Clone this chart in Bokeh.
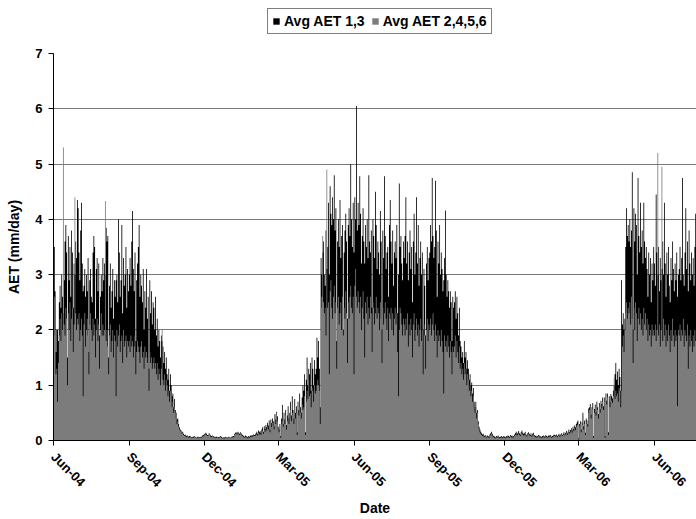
import pandas as pd
from bokeh.plotting import figure
from bokeh.layouts import column
from bokeh.models import (Range1d, FixedTicker, DatetimeTickFormatter, Legend,
                          LegendItem, ColumnDataSource)
from bokeh.embed import file_html
from bokeh.resources import INLINE

start_date = "2004-06-01"
series_names = ["Avg AET 1,3", "Avg AET 2,4,5,6"]

# Avg AET 1,3 (mm/day), one row per month
aet13_2004 = [
    4.2,3.5,2.7,1.6,2.0,2.0,1.8,2.5,2.8,2.4,3.0,2.6,2.3,2.9,3.6,3.9,3.4,1.5,3.7,2.9,3.5,2.6,3.8,3.4,2.4,3.2,3.0,3.6,3.3,4.35,
    4.2,3.4,2.9,3.8,4.3,3.2,2.7,2.8,3.1,2.6,3.0,2.7,3.3,1.6,2.9,3.1,2.6,2.5,3.4,3.7,3.5,2.2,3.1,3.3,2.7,3.2,1.9,2.6,3.0,2.7,3.3,
    2.9,3.2,3.0,3.85,3.6,3.7,1.5,2.8,3.2,2.4,2.7,3.1,2.2,2.9,2.6,2.9,3.0,2.5,4.0,3.4,2.6,2.9,3.9,2.3,3.3,2.8,3.0,3.5,2.4,3.1,2.7,
    3.0,3.3,2.8,3.6,4.15,3.1,2.7,3.4,1.8,2.9,3.2,3.5,3.9,2.6,3.0,2.8,2.5,3.1,2.0,2.7,2.4,3.1,2.2,2.6,1.3,2.9,2.3,2.7,2.1,2.5,
    2.4,2.0,2.6,1.9,2.2,1.7,2.0,1.8,1.5,1.9,1.8,1.7,1.4,1.6,1.3,1.5,1.2,1.1,1.3,0.9,1.2,1.0,0.8,0.85,0.6,0.75,0.55,0.5,0.38,0.4,0.3,
    0.24,0.2,0.18,0.14,0.16,0.12,0.1,0.11,0.09,0.08,0.09,0.07,0.08,0.08,0.06,0.06,0.07,0.07,0.08,0.07,0.06,0.05,0.07,0.07,0.06,0.06,0.07,0.07,0.09,0.1,
    0.11,0.12,0.14,0.12,0.1,0.1,0.13,0.11,0.09,0.08,0.09,0.08,0.07,0.07,0.06,0.07,0.07,0.06,0.06,0.07,0.08,0.07,0.05,0.06,0.05,0.06,0.07,0.06,0.05,0.06,0.07,
]
aet13_2005 = [
    0.06,0.05,0.07,0.07,0.08,0.08,0.12,0.14,0.15,0.13,0.16,0.14,0.12,0.15,0.13,0.11,0.1,0.08,0.07,0.09,0.08,0.07,0.06,0.08,0.07,0.09,0.08,0.1,0.09,0.11,0.1,
    0.11,0.13,0.16,0.12,0.18,0.15,0.17,0.14,0.2,0.24,0.16,0.26,0.21,0.28,0.24,0.32,0.27,0.36,0.2,0.38,0.31,0.4,0.35,0.26,0.48,0.38,0.52,0.44,
    0.25,0.2,0.3,0.08,0.4,0.64,0.3,0.5,0.38,0.55,0.28,0.45,0.62,0.4,0.5,0.7,0.45,0.8,0.55,0.4,0.75,0.5,0.62,0.15,0.7,0.55,0.85,0.6,0.5,0.78,1.0,
    0.9,1.2,0.15,1.1,1.5,1.0,1.3,1.2,1.4,0.9,1.5,1.3,1.0,1.45,1.2,1.3,1.86,1.5,1.8,1.3,0.6,3.3,3.0,3.4,3.6,3.0,2.8,3.8,3.1,3.5,
    4.3,3.0,4.6,4.1,3.9,4.4,4.0,4.8,3.8,4.2,1.8,3.6,4.0,3.5,4.35,3.3,3.7,3.9,2.0,3.4,3.8,4.1,3.6,2.2,3.9,4.2,3.7,5.0,4.0,3.5,4.3,
    3.4,4.4,4.0,6.05,3.8,4.3,3.9,4.78,4.1,3.2,3.7,4.2,3.6,3.2,3.9,3.5,4.0,3.3,4.8,3.6,3.4,3.8,2.4,4.0,3.7,3.3,4.5,3.9,3.1,3.6,
    3.4,3.0,4.15,3.6,2.0,3.8,3.3,4.78,3.7,3.1,3.4,3.5,2.6,3.9,4.35,3.6,3.2,3.8,2.8,3.4,3.6,3.3,3.9,2.3,3.0,4.65,3.5,3.7,3.2,2.9,3.6,
    3.3,3.7,4.4,3.2,3.6,2.9,3.4,3.8,3.1,3.5,2.5,3.6,4.1,3.0,3.4,4.4,3.2,3.9,2.8,3.3,3.6,3.0,3.4,2.0,3.1,2.8,1.9,3.2,3.5,2.9,3.3,
    3.4,3.9,3.6,4.75,3.7,3.3,3.5,4.7,3.8,2.6,3.6,3.2,3.9,3.0,3.4,3.1,2.7,2.9,3.3,4.16,3.0,2.6,2.9,2.7,2.4,2.7,2.5,1.8,2.6,2.4,
    2.5,2.7,2.2,2.6,2.3,1.9,2.4,1.8,1.7,1.5,1.6,1.4,1.8,1.5,1.6,1.3,1.45,1.3,1.1,1.2,1.0,1.05,0.85,0.95,0.7,0.6,0.7,0.5,0.55,0.35,0.25,
    0.2,0.16,0.13,0.11,0.12,0.09,0.08,0.1,0.07,0.09,0.08,0.07,0.11,0.13,0.16,0.12,0.09,0.08,0.07,0.06,0.08,0.07,0.09,0.07,0.06,0.07,0.08,0.06,0.07,0.08,
    0.07,0.06,0.08,0.07,0.09,0.08,0.07,0.1,0.08,0.09,0.07,0.08,0.11,0.13,0.16,0.12,0.14,0.17,0.13,0.11,0.15,0.18,0.14,0.12,0.13,0.16,0.11,0.09,0.13,0.15,0.12,
]
aet13_2006 = [
    0.1,0.13,0.09,0.12,0.14,0.1,0.08,0.09,0.07,0.08,0.1,0.09,0.07,0.08,0.06,0.08,0.09,0.07,0.08,0.1,0.08,0.07,0.09,0.08,0.1,0.09,0.07,0.08,0.09,0.11,0.1,
    0.09,0.11,0.08,0.1,0.12,0.09,0.11,0.13,0.1,0.12,0.15,0.11,0.14,0.17,0.13,0.16,0.2,0.15,0.19,0.22,0.18,0.25,0.21,0.27,0.24,0.3,0.33,0.36,
    0.04,0.3,0.35,0.2,0.33,0.5,0.26,0.36,0.14,0.4,0.36,0.3,0.58,0.6,0.66,0.47,0.6,0.68,0.08,0.57,0.65,0.52,0.7,0.6,0.48,0.68,0.57,0.72,0.66,0.78,0.62,
    0.78,0.08,0.85,0.72,0.85,0.15,0.8,0.7,0.84,0.8,0.76,0.9,1.0,1.2,1.4,1.1,1.25,1.0,1.3,1.15,0.9,2.9,2.1,2.3,2.0,2.2,3.5,4.2,3.7,3.9,
    3.6,4.0,3.5,3.8,4.85,2.0,4.2,3.6,4.1,3.9,3.0,4.75,3.7,3.4,4.3,3.5,3.8,3.2,4.3,3.6,3.3,3.5,3.1,2.6,3.4,3.0,3.3,2.5,3.2,2.9,3.5,
    3.2,2.8,4.45,3.4,3.0,3.5,2.7,3.3,2.9,3.1,3.6,3.0,4.3,3.2,2.6,3.4,3.0,3.5,2.8,2.5,3.3,2.9,3.6,3.1,2.7,3.2,2.9,3.4,2.6,3.0,
    3.1,3.5,2.9,3.3,4.75,3.0,2.8,3.4,4.2,3.1,3.6,2.7,3.8,3.2,2.9,3.4,3.0,3.3,2.8,3.5,4.1,3.2,
]

# Avg AET 2,4,5,6 (mm/day), one row per month
aet2456_2004 = [
    3.4,2.6,1.9,1.2,1.3,0.7,1.4,1.9,2.2,1.8,2.3,2.0,5.3,2.1,1.9,2.4,2.2,1.0,2.3,2.0,2.5,1.8,2.2,2.4,1.6,2.1,4.4,2.3,2.0,2.2,
    2.1,2.3,1.8,2.0,2.2,1.9,0.8,2.1,2.3,1.7,2.0,2.2,1.9,1.2,2.1,2.3,2.0,1.8,2.2,1.9,2.1,1.5,2.0,2.2,1.8,2.1,1.3,2.0,2.3,1.9,2.1,
    1.9,2.0,4.33,1.8,2.0,1.7,1.2,1.9,2.1,1.6,1.8,2.0,1.5,1.9,1.8,0.8,2.0,1.7,1.9,2.1,1.6,1.8,1.9,1.4,2.0,1.7,1.8,1.9,1.5,1.8,1.7,
    1.8,1.6,1.9,1.7,1.8,1.5,1.7,1.9,1.2,1.6,1.8,1.7,1.6,1.4,1.7,1.8,1.5,1.6,1.3,1.7,1.5,1.6,1.4,1.5,0.9,1.6,1.4,1.5,1.3,1.4,
    1.5,1.3,1.4,1.2,1.4,1.1,1.3,1.2,1.0,1.3,2.0,1.1,1.0,1.2,0.9,1.1,1.0,0.8,0.9,0.7,0.9,0.8,0.6,0.7,0.5,0.6,0.5,0.4,0.3,0.35,0.25,
    0.2,0.18,0.15,0.12,0.14,0.1,0.08,0.1,0.07,0.06,0.08,0.05,0.06,0.07,0.05,0.04,0.06,0.05,0.07,0.06,0.05,0.04,0.05,0.06,0.04,0.05,0.06,0.05,0.07,0.08,
    0.09,0.1,0.12,0.1,0.08,0.09,0.11,0.1,0.07,0.06,0.08,0.07,0.05,0.06,0.04,0.05,0.06,0.05,0.04,0.06,0.07,0.05,0.04,0.05,0.03,0.04,0.06,0.05,0.04,0.05,0.06,
]
aet2456_2005 = [
    0.05,0.04,0.06,0.05,0.07,0.06,0.1,0.12,0.13,0.11,0.14,0.12,0.1,0.13,0.11,0.09,0.08,0.06,0.05,0.07,0.06,0.05,0.04,0.06,0.05,0.07,0.06,0.08,0.07,0.09,0.08,
    0.08,0.1,0.12,0.09,0.14,0.11,0.13,0.1,0.15,0.18,0.12,0.2,0.16,0.22,0.18,0.25,0.2,0.28,0.15,0.3,0.24,0.32,0.27,0.2,0.45,0.3,0.5,0.35,
    0.2,0.15,0.25,0.05,0.3,0.35,0.25,0.4,0.3,0.45,0.2,0.35,0.5,0.3,0.4,0.55,0.35,0.5,0.45,0.3,0.6,0.4,0.5,0.1,0.55,0.45,0.6,0.5,0.4,0.65,0.55,
    0.6,0.8,0.1,0.7,0.9,0.75,1.1,0.8,0.85,0.6,0.95,0.9,0.7,1.0,0.85,0.9,1.0,1.1,1.0,0.9,0.3,2.4,2.6,3.7,2.5,2.3,2.4,1.9,4.9,2.4,
    2.5,1.2,2.7,2.9,2.4,2.2,2.6,2.8,2.3,2.5,1.3,2.4,2.6,2.1,2.3,2.5,2.0,2.6,1.9,2.4,2.2,2.7,2.3,1.4,2.5,2.2,2.6,2.8,2.4,2.3,2.6,
    1.2,2.8,3.1,2.6,2.4,2.7,2.5,2.3,2.6,2.0,2.4,2.7,2.2,1.5,2.5,2.3,2.6,2.1,2.4,2.2,2.6,2.3,1.6,2.5,2.4,2.1,2.3,2.6,2.2,2.4,
    2.3,2.0,2.5,2.2,1.4,2.4,2.1,2.3,2.5,2.2,2.0,2.4,1.8,2.3,2.2,2.4,2.0,2.3,1.9,2.2,2.4,2.1,2.3,1.6,0.8,2.0,2.4,2.3,2.1,1.9,2.2,
    2.1,1.9,2.2,2.0,2.3,1.7,2.1,1.9,2.2,2.0,1.5,2.1,2.3,1.8,2.0,2.2,1.9,2.1,1.7,2.0,2.2,1.8,2.0,1.2,2.1,1.9,1.3,2.0,2.2,1.8,2.1,
    2.0,2.2,1.9,2.1,2.3,2.0,1.8,2.1,1.9,1.5,2.0,1.8,1.9,1.7,2.0,1.8,1.6,0.85,1.9,1.7,1.8,1.6,1.9,1.7,1.5,1.8,1.6,1.2,1.7,1.6,
    1.7,1.9,1.5,1.8,1.6,1.4,1.7,1.3,1.4,1.2,1.3,1.1,1.4,1.2,1.3,1.0,1.2,1.1,0.9,1.0,0.8,0.9,0.7,0.8,0.6,0.5,0.6,0.4,0.5,0.3,0.2,
    0.15,0.12,0.1,0.08,0.09,0.07,0.06,0.08,0.05,0.07,0.06,0.05,0.08,0.1,0.12,0.09,0.07,0.06,0.05,0.04,0.06,0.05,0.07,0.05,0.04,0.05,0.06,0.04,0.05,0.06,
    0.05,0.04,0.06,0.05,0.07,0.06,0.05,0.08,0.06,0.07,0.05,0.06,0.08,0.1,0.12,0.09,0.11,0.13,0.1,0.08,0.12,0.14,0.11,0.09,0.1,0.13,0.08,0.07,0.1,0.12,0.09,
]
aet2456_2006 = [
    0.08,0.1,0.07,0.09,0.11,0.08,0.06,0.07,0.05,0.06,0.08,0.07,0.05,0.06,0.04,0.06,0.07,0.05,0.06,0.08,0.06,0.05,0.07,0.06,0.08,0.07,0.05,0.06,0.07,0.09,0.08,
    0.07,0.09,0.06,0.08,0.1,0.07,0.09,0.11,0.08,0.1,0.12,0.09,0.11,0.14,0.1,0.13,0.16,0.12,0.15,0.18,0.14,0.2,0.17,0.22,0.19,0.25,0.28,0.3,
    0.02,0.25,0.3,0.15,0.28,0.45,0.2,0.3,0.1,0.35,0.3,0.25,0.5,0.55,0.6,0.4,0.55,0.6,0.05,0.5,0.58,0.45,0.62,0.55,0.4,0.6,0.5,0.65,0.58,0.7,0.55,
    0.7,0.05,0.75,0.65,0.78,0.1,0.7,0.6,0.75,0.72,0.68,0.8,1.14,0.75,0.9,0.8,0.85,0.7,0.95,0.9,0.6,0.9,1.7,1.9,1.6,2.0,2.3,2.5,2.2,2.4,
    2.3,2.5,2.1,2.6,2.2,1.4,2.4,2.0,2.5,2.3,1.8,2.2,2.4,2.1,2.3,2.0,2.2,1.9,2.4,2.1,2.3,2.0,2.2,1.8,2.1,1.9,2.0,1.7,2.1,1.9,2.0,
    1.9,2.1,1.8,2.0,5.2,1.9,2.1,1.7,2.0,4.95,1.8,2.2,1.9,2.1,1.7,2.0,1.8,2.1,1.9,1.6,2.0,1.8,2.2,1.9,1.7,2.0,1.8,1.9,0.62,2.0,
    1.9,2.1,1.8,2.0,1.9,2.2,1.7,2.0,1.9,1.8,2.1,1.3,1.9,1.7,2.0,1.8,1.6,1.9,1.7,2.0,1.8,1.9,
]

tick_dates = ["2004-06-01", "2004-09-01", "2004-12-01", "2005-03-01", "2005-06-01",
              "2005-09-01", "2005-12-01", "2006-03-01", "2006-06-01"]
y_ticks = [0, 1, 2, 3, 4, 5, 6, 7]

aet13 = aet13_2004 + aet13_2005 + aet13_2006
aet2456 = aet2456_2004 + aet2456_2005 + aet2456_2006
assert len(aet13) == len(aet2456), (len(aet13), len(aet2456))
dates = pd.date_range(start_date, periods=len(aet13), freq="D")
src = ColumnDataSource(dict(date=dates, a13=aet13, a2456=aet2456))

FONT = "Liberation Sans"
BLACK = "#000000"
GRAY = "#7c7c7c"
x0 = pd.Timestamp(start_date)
x_end = x0 + pd.Timedelta(days=781)

# ---- legend strip (top) ----
lg = figure(width=696, height=44, output_backend="svg", toolbar_location=None,
            x_axis_type="datetime", x_range=Range1d(x0, x_end), y_range=Range1d(100, 101),
            min_border=0, title_location=None)
lg.axis.visible = False
lg.grid.visible = False
lg.outline_line_color = None
l1 = lg.varea_step(x="date", y1=0, y2="a13", step_mode="center", source=src, fill_color=BLACK)
l2 = lg.varea_step(x="date", y1=0, y2="a2456", step_mode="center", source=src, fill_color=GRAY)
legend = Legend(items=[LegendItem(label=series_names[0], renderers=[l1]),
                       LegendItem(label=series_names[1], renderers=[l2])],
                orientation="horizontal", location=(214, 10),
                border_line_color="black", border_line_width=1,
                background_fill_color="white", background_fill_alpha=1,
                label_text_font=FONT, label_text_font_size="14px",
                label_text_font_style="bold", label_text_color="black",
                glyph_width=8, glyph_height=8, label_standoff=4, spacing=6,
                padding=4, margin=0, label_height=14)
lg.add_layout(legend, "center")

# ---- main chart ----
p = figure(width=696, height=475, output_backend="svg", toolbar_location=None,
           x_axis_type="datetime", x_range=Range1d(x0, x_end), y_range=Range1d(0, 7),
           min_border_left=53, min_border_right=0, min_border_top=9, min_border_bottom=10,
           title_location=None)
p.outline_line_color = None
p.background_fill_color = "white"

p.varea_step(x="date", y1=0, y2="a13", step_mode="center", source=src, fill_color=BLACK)
p.varea_step(x="date", y1=0, y2="a2456", step_mode="center", source=src, fill_color=GRAY)

p.xgrid.visible = False
p.ygrid.grid_line_color = "#7a7a7a"
p.ygrid.grid_line_width = 1
p.yaxis.ticker = FixedTicker(ticks=y_ticks)
p.xaxis.ticker = FixedTicker(ticks=[pd.Timestamp(d).value // 10**6 for d in tick_dates])
fmt = "%b-%y"
p.xaxis.formatter = DatetimeTickFormatter(years=fmt, months=fmt, days=fmt, hours=fmt,
                                          minutes=fmt, seconds=fmt, milliseconds=fmt,
                                          microseconds=fmt, hourmin=fmt, minsec=fmt)
for ax in (p.xaxis[0], p.yaxis[0]):
    ax.axis_line_color = "black"
    ax.axis_line_width = 1
    ax.major_tick_line_color = "black"
    ax.major_tick_out = 5
    ax.major_tick_in = 0
    ax.minor_tick_line_color = None
    ax.major_label_text_font = FONT
    ax.major_label_text_color = "black"
    ax.axis_label_text_font = FONT
    ax.axis_label_text_font_style = "bold"
    ax.axis_label_text_font_size = "14px"
    ax.axis_label_text_color = "black"

p.yaxis.axis_label = "AET (mm/day)"
p.yaxis.major_label_text_font_size = "13px"
p.yaxis.major_label_text_font_style = "bold"
p.yaxis.major_label_standoff = 6
p.yaxis.axis_label_standoff = 10

p.xaxis.axis_label = "Date"
p.xaxis.major_label_text_font_size = "13px"
p.xaxis.major_label_text_font_style = "bold"
p.xaxis.major_label_orientation = -0.785398
p.xaxis.major_label_standoff = 9
p.xaxis.axis_label_standoff = 2

layout = column(lg, p, spacing=0)
open("out.html", "w").write(file_html(layout, INLINE))
